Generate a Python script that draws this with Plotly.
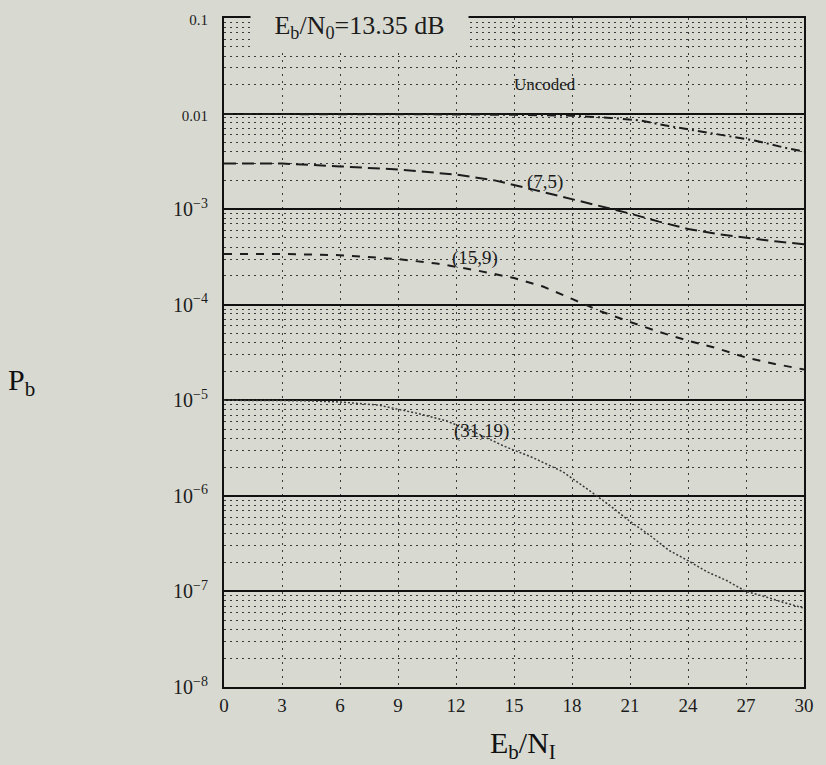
import numpy as np
import plotly.graph_objects as go

# ---------------- data ----------------
x_uncoded = [0, 3, 6, 9, 12, 15, 18, 20, 21.5, 23, 24.5, 26, 27.5, 29, 30]
y_uncoded = [0.0099, 0.0099, 0.0099, 0.0098, 0.0098, 0.0097, 0.0095, 0.0090, 0.0085,
             0.0074, 0.0066, 0.0059, 0.0052, 0.0044, 0.0040]

x_7_5 = [0, 3, 6, 9, 12, 14, 16, 18, 19.5, 21, 22.5, 24, 25.5, 27, 28.5, 30]
y_7_5 = [0.0030, 0.0030, 0.0028, 0.0026, 0.0023, 0.0020, 0.0016, 0.00128, 0.00107,
         0.00090, 0.00074, 0.00062, 0.00055, 0.00050, 0.00046, 0.00043]

x_15_9 = [0, 3, 6, 9, 11, 13, 15, 16.5, 18, 19.5, 21, 22.5, 24, 25.5, 27, 28.5, 30]
y_15_9 = [0.00034, 0.00034, 0.00033, 0.00030, 0.00027, 0.00023, 0.00019, 0.000155,
          0.000115, 0.000085, 0.000066, 0.000052, 0.000042, 0.000035, 0.000028,
          0.000024, 0.000021]

x_31_19 = [0, 2, 4, 6, 8, 10, 11.5, 13, 14.5, 16, 17.5, 19, 20, 21, 22, 23, 24, 25,
           26, 27, 28, 29, 30]
y_31_19 = [1.0e-5, 1.0e-5, 9.9e-6, 9.6e-6, 8.9e-6, 7.3e-6, 6.1e-6, 4.6e-6, 3.3e-6,
           2.5e-6, 1.8e-6, 1.1e-6, 7.8e-7, 5.4e-7, 3.9e-7, 2.7e-7, 2.1e-7, 1.6e-7,
           1.3e-7, 1.0e-7, 8.8e-8, 7.6e-8, 6.7e-8]

curve_labels = ["Uncoded", "(7,5)", "(15,9)", "(31,19)"]
label_x = [16.6, 16.6, 13.0, 13.3]
label_y = [0.0201, 0.00192, 0.00031, 4.8e-6]

x_ticks = [0, 3, 6, 9, 12, 15, 18, 21, 24, 27, 30]
y_ticks = [1e-1, 1e-2, 1e-3, 1e-4, 1e-5, 1e-6, 1e-7, 1e-8]
y_ticktext = ["<span style='font-size:15px'>0.1</span>",
              "<span style='font-size:15px'>0.01</span>",
              "10<sup>−3</sup>", "10<sup>−4</sup>", "10<sup>−5</sup>",
              "10<sup>−6</sup>", "10<sup>−7</sup>", "10<sup>−8</sup>"]

# ---------------- style ----------------
BG = "#d8dad2"
INK = "#1c1c1c"
FONT = "Liberation Serif"

fig = go.Figure()
fig.add_trace(go.Scatter(x=x_uncoded, y=y_uncoded, mode="lines",
                         line=dict(color=INK, width=2, dash="9px,4px,2px,4px"),
                         showlegend=False))
fig.add_trace(go.Scatter(x=x_7_5, y=y_7_5, mode="lines",
                         line=dict(color=INK, width=2, dash="12px,6px"),
                         showlegend=False))
fig.add_trace(go.Scatter(x=x_15_9, y=y_15_9, mode="lines",
                         line=dict(color=INK, width=2, dash="8px,8px"),
                         showlegend=False))
fig.add_trace(go.Scatter(x=x_31_19, y=y_31_19, mode="lines",
                         line=dict(color="#3a3a3a", width=1.5, dash="2px,2px"),
                         showlegend=False))

for t, lx, ly in zip(curve_labels, label_x, label_y):
    fig.add_annotation(x=lx, y=np.log10(ly), xref="x", yref="y", text=t,
                       showarrow=False,
                       font=dict(family=FONT, size=19 if t != "Uncoded" else 17,
                                 color=INK))

minor_vals = [k * 10.0 ** e for e in range(-8, -1) for k in range(2, 10)]

fig.update_layout(
    width=826, height=765,
    margin=dict(l=224, r=17, t=13, b=78),
    paper_bgcolor=BG, plot_bgcolor=BG,
    font=dict(family=FONT, color=INK),
    xaxis=dict(range=[0, 30], tickvals=x_ticks, showgrid=True,
               gridcolor="#3a3a3a", gridwidth=1, griddash="2px,5px",
               showline=True, mirror=True, linecolor="#111", linewidth=2,
               zeroline=False, ticks="", ticklabelstandoff=0,
               tickfont=dict(family=FONT, size=19, color=INK)),
    yaxis=dict(type="log", range=[-8, -1], tickvals=y_ticks, ticktext=y_ticktext,
               showgrid=True, gridcolor="#111", gridwidth=2,
               showline=True, mirror=True, linecolor="#111", linewidth=2,
               zeroline=False, ticks="", ticklabelstandoff=10,
               tickfont=dict(family=FONT, size=20, color=INK),
               minor=dict(tickvals=minor_vals, showgrid=True, gridcolor="#3a3a3a",
                          gridwidth=1, griddash="2px,4px", ticks="")),
)

# text box at top
fig.add_annotation(xref="paper", yref="paper", x=0.234, y=0.9866,
                   xanchor="center", yanchor="middle", width=215, height=46,
                   text="E<sub>b</sub>/N<sub>0</sub>=13.35 dB", showarrow=False,
                   bgcolor=BG, font=dict(family=FONT, size=26, color=INK))

# axis titles
fig.add_annotation(xref="paper", yref="paper", x=-0.3487, y=0.4555,
                   xanchor="center", yanchor="middle", showarrow=False,
                   text="P<sub>b</sub>", font=dict(family=FONT, size=30, color="#111"))
fig.add_annotation(xref="paper", yref="paper", x=0.516, y=-0.086,
                   xanchor="center", yanchor="middle", showarrow=False,
                   text="E<sub>b</sub>/N<sub>I</sub>",
                   font=dict(family=FONT, size=30, color="#111"))

fig.write_html("out.html")
